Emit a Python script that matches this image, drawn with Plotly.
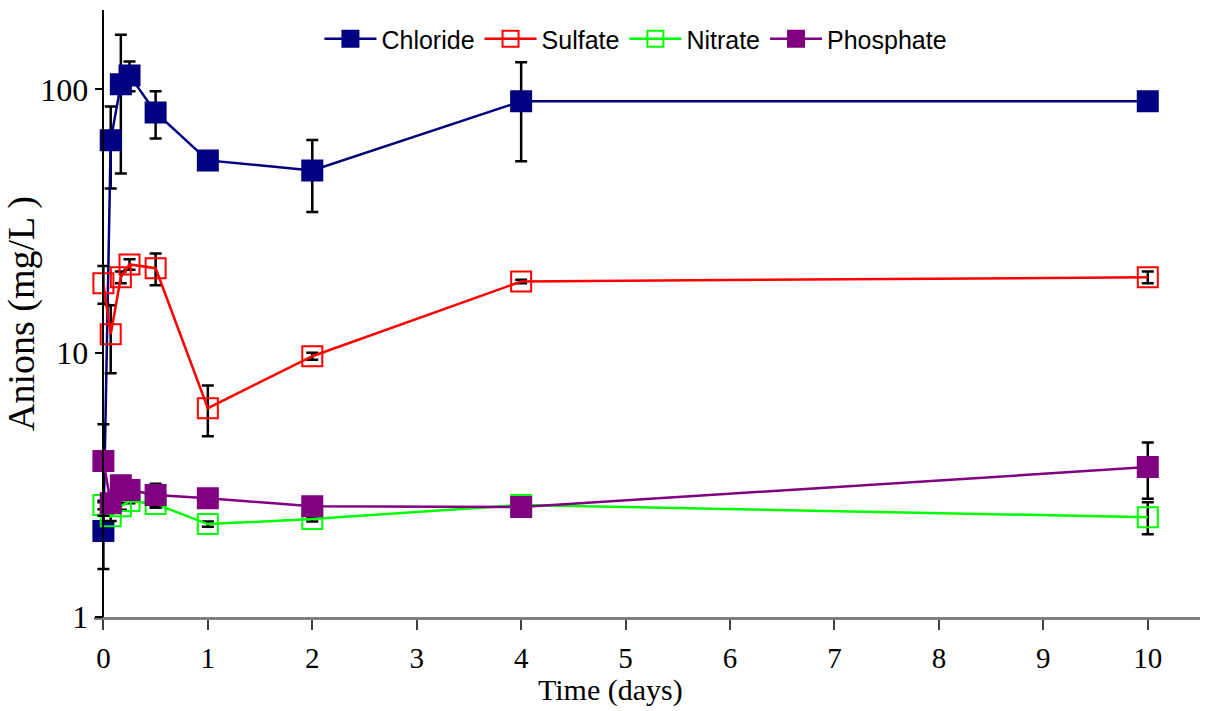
import plotly.graph_objects as go

# Sampling times (days)
time_days = [0, 0.07, 0.167, 0.25, 0.5, 1, 2, 4, 10]

# Mean anion concentrations (mg/L) and their standard deviations
chloride = [2.12, 64.1, 104.5, 113, 81.8, 53.8, 49.3, 90.1, 90.1]
chloride_sd = [0.6, 22, 56.5, 14.6, 16.6, 1.0, 15, 36.7, 1.0]

sulfate = [18.4, 11.8, 19.4, 21.7, 21.0, 6.19, 9.74, 18.7, 19.4]
sulfate_sd = [3.0, 3.4, 1.0, 1.0, 2.9, 1.35, 0.3, 0.3, 1.0]

nitrate = [2.66, 2.41, 2.63, 2.75, 2.68, 2.25, 2.35, 2.66, 2.39]
nitrate_sd = [0.1, 0.1, 0.08, 0.05, 0.08, 0.05, 0.05, 0.05, 0.33]

phosphate = [3.9, 2.70, 3.16, 3.03, 2.90, 2.82, 2.63, 2.61, 3.70]
phosphate_sd = [1.48, 0.2, 0.15, 0.1, 0.3, 0.1, 0.05, 0.05, 0.89]

x_ticks = [0, 1, 2, 3, 4, 5, 6, 7, 8, 9, 10]
y_ticks = [1, 10, 100]

series = [
    ("Chloride", chloride, chloride_sd, "#000080", "square"),
    ("Sulfate", sulfate, sulfate_sd, "#FF0000", "square-open"),
    ("Nitrate", nitrate, nitrate_sd, "#00FF00", "square-open"),
    ("Phosphate", phosphate, phosphate_sd, "#800080", "square"),
]

fig = go.Figure()
for name, vals, sd, color, symbol in series:
    fig.add_trace(go.Scatter(
        x=time_days, y=vals, name=name, mode="lines+markers",
        line=dict(color=color, width=2.5),
        marker=dict(symbol=symbol, size=20, color=color,
                    line=dict(color=color, width=2)),
        error_y=dict(type="data", array=sd, visible=True,
                     color="black", thickness=2.5, width=6),
        cliponaxis=False,
    ))

x_left, x_right = -0.09, 10.5
y0_frac = (0 - x_left) / (x_right - x_left)

fig.update_layout(
    width=1207, height=711,
    margin=dict(l=94, r=7, t=10, b=94),
    paper_bgcolor="white", plot_bgcolor="white",
    font=dict(family="Liberation Serif", size=30, color="black"),
    showlegend=True,
    legend=dict(orientation="h", x=0.49, xanchor="center", y=0.99, yanchor="top",
                font=dict(family="Liberation Sans", size=25, color="black"),
                bgcolor="rgba(0,0,0,0)", itemwidth=52, tracegroupgap=0),
    xaxis=dict(range=[x_left, x_right], tickvals=x_ticks,
               tickfont=dict(family="Liberation Serif", size=29, color="black"),
               showgrid=False, zeroline=False,
               showline=True, linecolor="#808080", linewidth=2.5,
               ticks="outside", ticklen=10, tickcolor="#404040", tickwidth=1.5,
               ticklabelstandoff=3),
    yaxis=dict(type="log", range=[0, 2.301], tickvals=y_ticks,
               ticktext=["1", "10", "100"],
               tickfont=dict(family="Liberation Serif", size=32, color="black"),
               anchor="free", position=y0_frac,
               showgrid=False, zeroline=False,
               showline=True, linecolor="black", linewidth=1.5,
               ticks="outside", ticklen=8, tickcolor="black", tickwidth=1.5,
               title=dict(text="Anions (mg/L )", standoff=6,
                          font=dict(family="Liberation Serif", size=38))),
    annotations=[dict(text="Time (days)", xref="paper", yref="paper",
                      x=(610 - 94) / 1106, y=-0.12, xanchor="center", yanchor="middle",
                      showarrow=False,
                      font=dict(family="Liberation Serif", size=30, color="black"))],
)

fig.write_html("out.html")
